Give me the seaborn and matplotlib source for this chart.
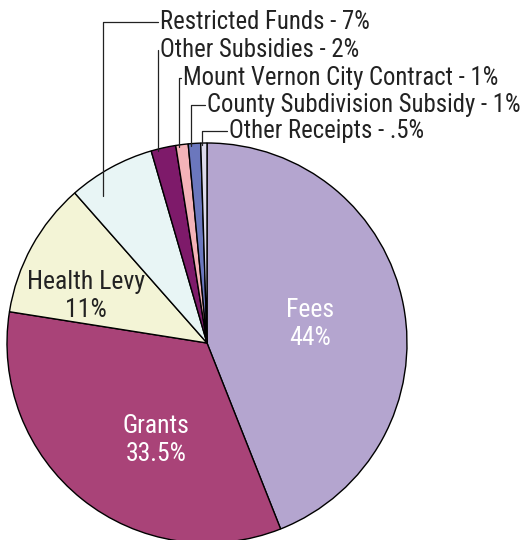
import numpy as np
import matplotlib
matplotlib.use("Agg")
import matplotlib.pyplot as plt
import seaborn as sns

# revenue sources, clockwise from 12 o'clock
sources = ["Fees", "Grants", "Health Levy", "Restricted Funds", "Other Subsidies",
           "Mount Vernon City Contract", "County Subdivision Subsidy", "Other Receipts"]
shares = [44, 33.5, 11, 7, 2, 1, 1, 0.5]
share_text = ["44%", "33.5%", "11%", "7%", "2%", "1%", "1%", ".5%"]
slice_colors = ["#b4a5cf", "#a94378", "#f3f4d6", "#e8f5f5", "#7e1a6a",
                "#f4b3b8", "#6b77bd", "#dcdaec"]

# pie geometry in image pixels
W, H = 529, 540
CX, CY, R = 207, 343, 200

sns.set_theme(style="white")
plt.rcParams["font.family"] = ["Roboto Condensed", "DejaVu Sans"]


def px(x, y):
    # image pixel -> data units (pie radius = 1)
    return (x - CX) / R, (CY - y) / R


fig = plt.figure(figsize=(W / 100, H / 100), dpi=100)
ax = fig.add_axes([0, 0, 1, 1])
wedges, _ = ax.pie(
    shares,
    colors=sns.color_palette(slice_colors),
    startangle=90,
    counterclock=False,
    radius=1,
    wedgeprops=dict(edgecolor="black", linewidth=1.0),
)
ax.set_xlim(px(0, 0)[0], px(W, 0)[0])
ax.set_ylim(px(0, H)[1], px(0, 0)[1])
ax.set_aspect("auto")
ax.axis("off")

# labels inside the big slices
inside = {0: (310, 324, "white"), 1: (156, 440, "white"), 2: (86, 296, "#222222")}
for i, (x, y, c) in inside.items():
    tx, ty = px(x, y)
    ax.text(tx, ty, f"{sources[i]}\n{share_text[i]}", ha="center", va="center",
            color=c, fontsize=18.5, linespacing=1.25)

# call-out labels for the small slices
callout_pos = {3: (160, 22), 4: (160, 50), 5: (183, 78), 6: (207, 105), 7: (229, 131)}
for i, (x, y) in callout_pos.items():
    w = wedges[i]
    ang = np.deg2rad(w.theta2 - 0.25 * (w.theta2 - w.theta1))
    r_end = 0.9 if i == 3 else 0.99
    ax_x, ax_y = r_end * np.cos(ang), r_end * np.sin(ang)
    tx, ty = px(x, y)
    ax.plot([ax_x, ax_x, tx - 0.008], [ax_y, ty, ty], color="#222222", lw=0.9)
    ax.text(tx, ty, f"{sources[i]} - {share_text[i]}", ha="left", va="center",
            color="#222222", fontsize=17.8)

fig.savefig("out.png", dpi=100)
